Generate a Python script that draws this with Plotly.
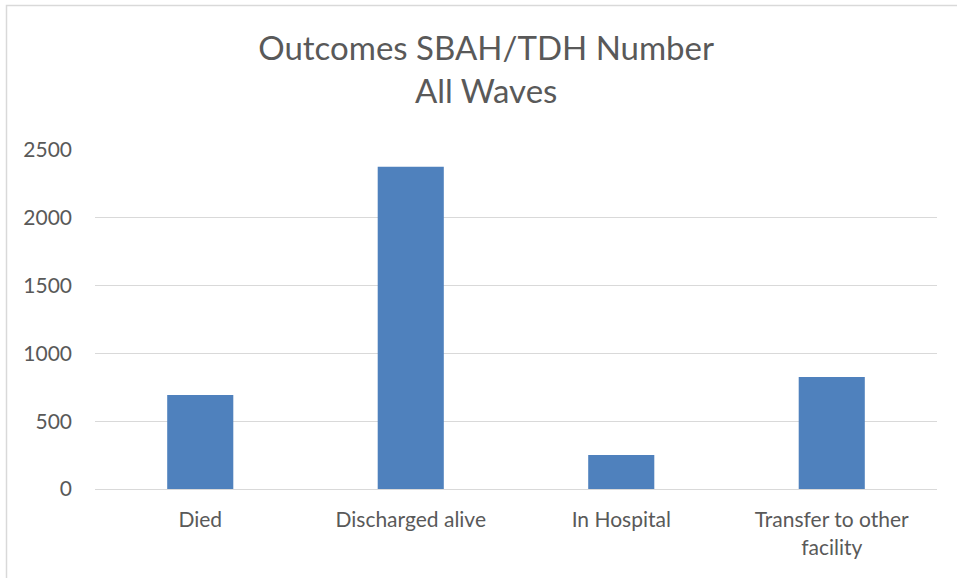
import plotly.graph_objects as go

categories = ['Died', 'Discharged alive', 'In Hospital', 'Transfer to other<br>facility']
counts = [693, 2377, 251, 826]
y_ticks = [0, 500, 1000, 1500, 2000, 2500]

W, H = 957, 578
L, R, T, B = 95, 20, 150, 89
pw, ph = W - L - R, H - T - B

fig = go.Figure(go.Bar(x=categories, y=counts, marker=dict(color='#4f81bd', line=dict(width=0)),
                       width=0.314))

fig.update_layout(
    width=W, height=H,
    margin=dict(l=L, r=R, t=T, b=B),
    plot_bgcolor='white', paper_bgcolor='white',
    font=dict(family='Lato, Open Sans, sans-serif', color='#595959', size=21),
    title=dict(text='Outcomes SBAH/TDH Number<br>All Waves', x=0.508, xanchor='center',
               y=1 - 60 / H, yanchor='top', font=dict(size=33, color='#595959')),
    showlegend=False,
)
fig.update_xaxes(showgrid=False, showline=True, linecolor='#d9d9d9', linewidth=1,
                 ticks='', tickfont=dict(size=21), ticklabelstandoff=12)
fig.update_yaxes(range=[0, 2500], tickvals=y_ticks, showgrid=True, gridcolor='#d9d9d9',
                 gridwidth=1, zeroline=False, showline=False, ticks='', ticklabelstandoff=22,
                 tickfont=dict(size=21))

# outer chart frame (only left and top edges fall inside the picture)
fig.add_shape(type='rect', xref='paper', yref='paper',
              x0=(6.5 - L) / pw, x1=(W + 10 - L) / pw,
              y0=-(B + 10) / ph, y1=(H - 5.5 - B) / ph,
              line=dict(color='#d9d9d9', width=1.5), layer='below')

fig.write_html('out.html', config={'displayModeBar': False},
               post_script="document.body.style.margin='0';")
